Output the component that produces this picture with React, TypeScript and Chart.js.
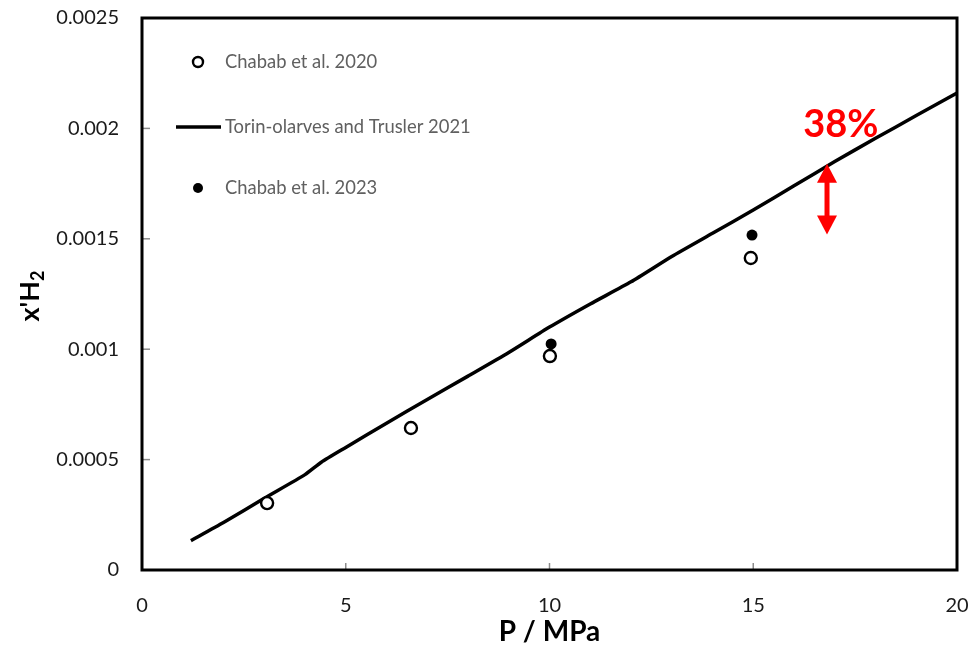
import React, { useEffect, useRef } from 'react';
import { Chart, registerables } from 'chart.js';

Chart.register(...registerables);

// ---- data ----
const xTickValues = [0, 5, 10, 15, 20];
const yTickValues = [0, 0.0005, 0.001, 0.0015, 0.002, 0.0025];
const yTickLabels = ['0', '0.0005', '0.001', '0.0015', '0.002', '0.0025'];

const seriesNames = ['Chabab et al. 2020', 'Torin-olarves and Trusler 2021', 'Chabab et al. 2023'];

const p2020 = [3.07, 6.6, 10.01, 14.94];
const x2020 = [0.000303, 0.000643, 0.000969, 0.001413];

const p2023 = [10.04, 14.97];
const x2023 = [0.001024, 0.001517];

const pModel = [1.2, 2, 3, 4, 4.4, 5, 6, 7, 8, 9, 10, 11, 12, 13, 14, 15, 16, 17, 18, 19, 20];
const xModel = [
  0.000133, 0.000215, 0.000325, 0.000432, 0.000488, 0.000555, 0.000665, 0.000772, 0.000878,
  0.000985, 0.0011, 0.001205, 0.001305, 0.00142, 0.001525, 0.00163, 0.00174, 0.00185,
  0.001955, 0.002058, 0.00216,
];

const annotationText = '38%';
const annotationP = 17.15;
const annotationX = 0.002015;
const arrowP = 16.81;
const arrowTop = 0.00184;
const arrowBottom = 0.00152;

const FONT = 'Lato, "Open Sans", sans-serif';

const decorPlugin = {
  id: 'decor',
  beforeDatasetsDraw(chart: any) {
    const { ctx, chartArea, scales } = chart;
    const xs = scales.x;
    const ys = scales.y;
    ctx.save();
    ctx.strokeStyle = '#8c8c8c';
    ctx.lineWidth = 1.5;
    xTickValues.forEach((v) => {
      const px = xs.getPixelForValue(v);
      ctx.beginPath();
      ctx.moveTo(px, chartArea.bottom);
      ctx.lineTo(px, chartArea.bottom - 7);
      ctx.stroke();
    });
    yTickValues.forEach((v) => {
      const py = ys.getPixelForValue(v);
      ctx.beginPath();
      ctx.moveTo(chartArea.left, py);
      ctx.lineTo(chartArea.left + 8, py);
      ctx.stroke();
    });
    ctx.restore();
  },
  afterDatasetsDraw(chart: any) {
    const { ctx, chartArea, scales } = chart;
    const xs = scales.x;
    const ys = scales.y;
    ctx.save();
    // frame
    ctx.strokeStyle = '#000';
    ctx.lineWidth = 3;
    ctx.strokeRect(chartArea.left, chartArea.top, chartArea.right - chartArea.left, chartArea.bottom - chartArea.top);

    // legend
    const lx = chartArea.left + 56;
    ctx.font = `18.4px ${FONT}`;
    ctx.fillStyle = '#606060';
    ctx.textBaseline = 'middle';
    ctx.textAlign = 'left';
    const rows = [62, 127, 188];
    ctx.beginPath();
    ctx.arc(lx, rows[0], 5, 0, Math.PI * 2);
    ctx.strokeStyle = '#000';
    ctx.lineWidth = 2.4;
    ctx.stroke();
    ctx.fillText(seriesNames[0], chartArea.left + 83, rows[0]);
    ctx.beginPath();
    ctx.moveTo(chartArea.left + 34, rows[1]);
    ctx.lineTo(chartArea.left + 79, rows[1]);
    ctx.lineWidth = 3.5;
    ctx.stroke();
    ctx.fillText(seriesNames[1], chartArea.left + 83, rows[1]);
    ctx.beginPath();
    ctx.arc(lx, rows[2], 5, 0, Math.PI * 2);
    ctx.fillStyle = '#000';
    ctx.fill();
    ctx.fillStyle = '#606060';
    ctx.fillText(seriesNames[2], chartArea.left + 83, rows[2]);

    // annotation
    ctx.fillStyle = '#ff0000';
    ctx.font = `bold 38px ${FONT}`;
    ctx.textAlign = 'center';
    ctx.fillText(annotationText, xs.getPixelForValue(annotationP), ys.getPixelForValue(annotationX));

    const ax = xs.getPixelForValue(arrowP);
    const aTop = ys.getPixelForValue(arrowTop);
    const aBot = ys.getPixelForValue(arrowBottom);
    const headH = 19;
    const headW = 10;
    ctx.strokeStyle = '#ff0000';
    ctx.lineWidth = 5;
    ctx.beginPath();
    ctx.moveTo(ax, aTop + headH - 2);
    ctx.lineTo(ax, aBot - headH + 2);
    ctx.stroke();
    ctx.beginPath();
    ctx.moveTo(ax, aTop);
    ctx.lineTo(ax - headW, aTop + headH);
    ctx.lineTo(ax + headW, aTop + headH);
    ctx.closePath();
    ctx.fill();
    ctx.beginPath();
    ctx.moveTo(ax, aBot);
    ctx.lineTo(ax - headW, aBot - headH);
    ctx.lineTo(ax + headW, aBot - headH);
    ctx.closePath();
    ctx.fill();

    // y axis title with subscript
    const cy = (chartArea.top + chartArea.bottom) / 2 + 2;
    ctx.translate(30, cy);
    ctx.rotate(-Math.PI / 2);
    ctx.fillStyle = '#000';
    ctx.textAlign = 'left';
    ctx.textBaseline = 'middle';
    ctx.font = `bold 27px ${FONT}`;
    const main = "x'H";
    const w1 = ctx.measureText(main).width;
    ctx.font = `bold 18px ${FONT}`;
    const w2 = ctx.measureText('2').width;
    const total = w1 + w2;
    ctx.font = `bold 27px ${FONT}`;
    ctx.fillText(main, -total / 2, 0);
    ctx.font = `bold 18px ${FONT}`;
    ctx.fillText('2', -total / 2 + w1, 8);
    ctx.restore();
  },
};

export default function App() {
  const ref = useRef<HTMLCanvasElement | null>(null);
  useEffect(() => {
    document.body.style.margin = '0';
    const canvas = ref.current!;
    const chart = new Chart(canvas, {
      type: 'scatter',
      data: {
        datasets: [
          {
            label: seriesNames[1],
            type: 'line',
            data: pModel.map((p, i) => ({ x: p, y: xModel[i] })),
            borderColor: '#000',
            borderWidth: 3.5,
            pointRadius: 0,
            fill: false,
            tension: 0.2,
            order: 3,
          } as any,
          {
            label: seriesNames[0],
            data: p2020.map((p, i) => ({ x: p, y: x2020[i] })),
            pointRadius: 6,
            pointBorderWidth: 2.4,
            pointBorderColor: '#000',
            pointBackgroundColor: '#fff',
            order: 2,
          },
          {
            label: seriesNames[2],
            data: p2023.map((p, i) => ({ x: p, y: x2023[i] })),
            pointRadius: 5.5,
            pointBorderWidth: 0,
            pointBackgroundColor: '#000',
            pointBorderColor: '#000',
            order: 1,
          },
        ],
      },
      options: {
        responsive: false,
        animation: false,
        layout: { padding: { top: 18, right: 23, bottom: 0, left: 0 } },
        plugins: { legend: { display: false }, tooltip: { enabled: false } },
        scales: {
          x: {
            type: 'linear',
            min: 0,
            max: 20,
            afterFit: (s: any) => { s.height = 79; s.paddingRight = 0; s.paddingLeft = 0; },
            afterBuildTicks: (s: any) => { s.ticks = xTickValues.map((v) => ({ value: v })); },
            grid: { display: false, drawTicks: false },
            border: { display: false },
            ticks: {
              padding: 24,
              color: '#1a1a1a',
              font: { family: FONT, size: 20 },
              maxRotation: 0,
            },
            title: {
              display: true,
              text: 'P / MPa',
              color: '#000',
              font: { family: FONT, size: 28, weight: 'bold' },
              padding: { top: 0, bottom: 0 },
            },
          },
          y: {
            type: 'linear',
            min: 0,
            max: 0.0025,
            afterFit: (s: any) => { s.width = 142; s.paddingTop = 0; s.paddingBottom = 0; },
            afterBuildTicks: (s: any) => { s.ticks = yTickValues.map((v) => ({ value: v })); },
            grid: { display: false, drawTicks: false },
            border: { display: false },
            ticks: {
              padding: 23,
              color: '#1a1a1a',
              font: { family: FONT, size: 20 },
              callback: (_v: any, i: number) => yTickLabels[i],
            },
          },
        },
      },
      plugins: [decorPlugin],
    });
    return () => chart.destroy();
  }, []);
  return (
    <div style={{ position: 'absolute', left: 0, top: 0, width: 980, height: 649, background: '#fff' }}>
      <canvas ref={ref} width={980} height={649} style={{ display: 'block' }} />
    </div>
  );
}
